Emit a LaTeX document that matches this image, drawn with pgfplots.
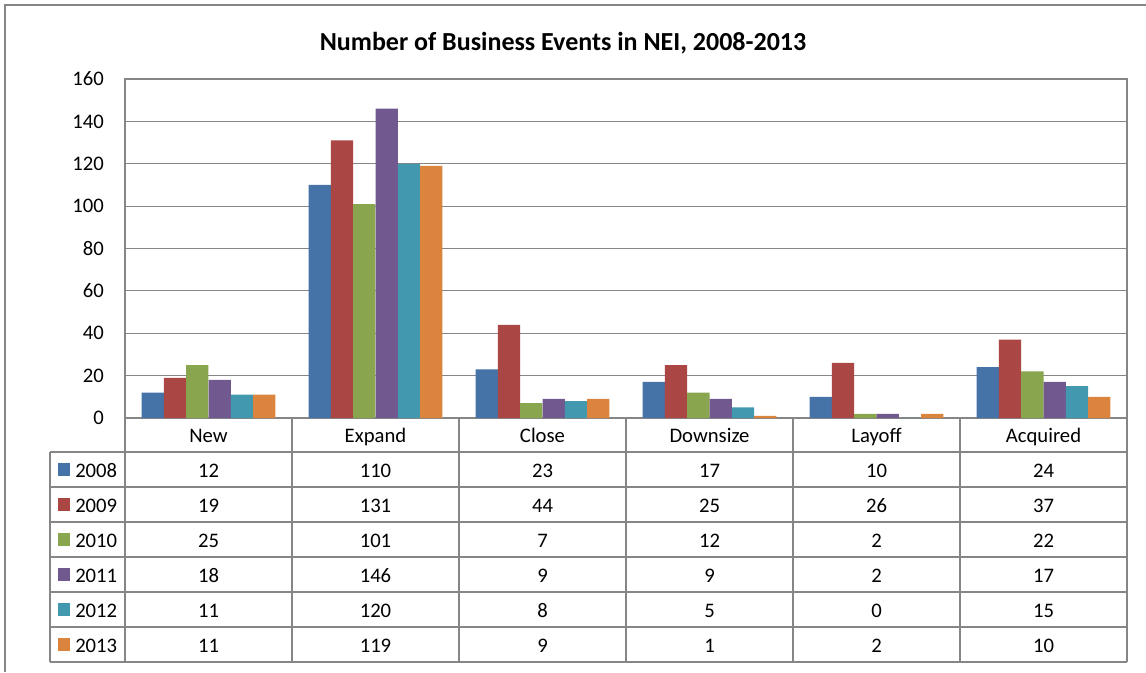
\documentclass[border=0pt]{standalone}
\usepackage{fontspec}
\setmainfont{Carlito}
\usepackage{pgfplots}
\usepackage{pgfplotstable}
\pgfplotsset{compat=1.18}
\definecolor{c2008}{HTML}{4572A7}
\definecolor{c2009}{HTML}{AA4643}
\definecolor{c2010}{HTML}{89A54E}
\definecolor{c2011}{HTML}{71588F}
\definecolor{c2012}{HTML}{4198AF}
\definecolor{c2013}{HTML}{DB843D}
\definecolor{gridgray}{HTML}{868686}

\pgfplotstableread{
x y2008 y2009 y2010 y2011 y2012 y2013
0 12 19 25 18 11 11
1 110 131 101 146 120 119
2 23 44 7 9 8 9
3 17 25 12 9 5 1
4 10 26 2 2 0 2
5 24 37 22 17 15 10
}\datatable

\begin{document}
\begin{tikzpicture}[font=\fontsize{15.5}{18}\selectfont]
\begin{scope}[x=0.75pt,y=-0.75pt]
\path[use as bounding box] (0,0) rectangle (1146,672);
\draw[gridgray, line width=1.2pt] (5,672) -- (5,5) -- (1146,5);
\node[font=\fontsize{19.5}{23}\selectfont\bfseries] at (563,43) {Number of Business Events in NEI, 2008-2013};
\end{scope}
\begin{axis}[at={(93.75pt,-313.5pt)}, anchor=south west, scale only axis,
  width=751.5pt, height=254.25pt,
  xmin=-0.5, xmax=5.5, ymin=0, ymax=160,
  ytick={0,20,...,160}, xtick=\empty,
  ymajorgrids, grid style={gridgray, line width=0.9pt},
  axis line style={gridgray, line width=0.9pt},
  major tick length=0pt,
  yticklabel style={anchor=east, inner sep=0pt, xshift=-15.75pt},
  /pgf/number format/assume math mode=true,
  ybar, bar width=0.13333, clip=false]
\addplot[fill=c2008, draw=none, bar shift=-0.33333] table[x=x,y=y2008]{\datatable};
\addplot[fill=c2009, draw=none, bar shift=-0.2] table[x=x,y=y2009]{\datatable};
\addplot[fill=c2010, draw=none, bar shift=-0.066667] table[x=x,y=y2010]{\datatable};
\addplot[fill=c2011, draw=none, bar shift=0.066667] table[x=x,y=y2011]{\datatable};
\addplot[fill=c2012, draw=none, bar shift=0.2] table[x=x,y=y2012]{\datatable};
\addplot[fill=c2013, draw=none, bar shift=0.33333] table[x=x,y=y2013]{\datatable};
\end{axis}
\begin{scope}[x=0.75pt,y=-0.75pt]
\begin{scope}[draw=gridgray, line width=0.9pt]
\foreach \yy in {452,487,522,557,592,627,662} \draw (50,\yy) -- (1127,\yy);
\draw (50,452) -- (50,662);
\foreach \k in {0,...,6} \draw ({125+167*\k},418) -- ({125+167*\k},662);
\end{scope}
\foreach \name [count=\i from 0] in {New,Expand,Close,Downsize,Layoff,Acquired}
  \node[anchor=base, inner sep=0pt] at ({208.5+167*\i},442) {\name};
\foreach \col/\yr/\cc [count=\r from 0] in {y2008/2008/c2008,y2009/2009/c2009,y2010/2010/c2010,y2011/2011/c2011,y2012/2012/c2012,y2013/2013/c2013} {
  \fill[\cc] (58,{463+35*\r}) rectangle (70,{476+35*\r});
  \node[anchor=base west, inner sep=0pt] at (75,{477+35*\r}) {\yr};
  \foreach \i in {0,...,5} {
    \pgfplotstablegetelem{\i}{\col}\of\datatable
    \node[anchor=base, inner sep=0pt] at ({208.5+167*\i},{477+35*\r}) {\pgfplotsretval};
  }
}
\end{scope}
\end{tikzpicture}
\end{document}
